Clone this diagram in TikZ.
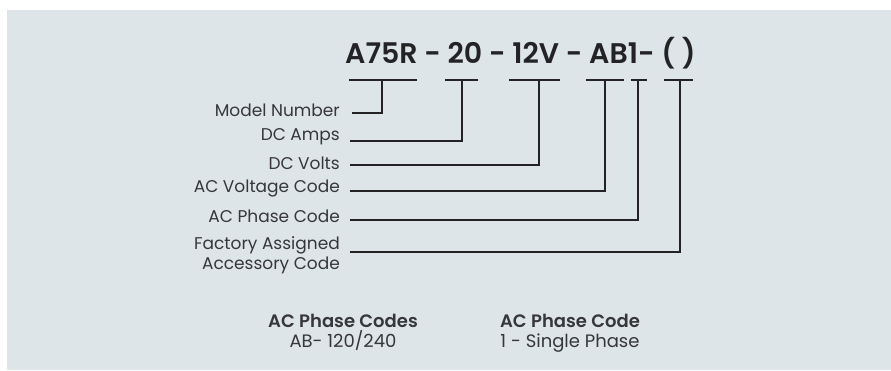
\documentclass[tikz,border=0pt]{standalone}
\usepackage{fontspec}
\setmainfont{Poppins}[BoldFont={Poppins SemiBold}]
\definecolor{panelbg}{RGB}{221,229,232}
\definecolor{inkdark}{RGB}{35,35,38}
\definecolor{textgray}{RGB}{55,55,58}
\usetikzlibrary{positioning}

\begin{document}
\begin{tikzpicture}[x=1pt,y=-1pt,
    field/.style={anchor=east,inner sep=0pt,text=textgray,font=\fontsize{17}{19.5}\selectfont,align=right},
    lead/.style={draw=inkdark,line width=1.3pt},
    keyhead/.style={inner sep=0pt,text=textgray,font=\bfseries\fontsize{18}{20}\selectfont},
    keyline/.style={inner sep=0pt,text=textgray,font=\fontsize{18}{20}\selectfont}]
  \useasboundingbox (0,0) rectangle (891,370);
  \fill[panelbg] (7,10) rectangle (891,370);

  % part number
  \node[inner sep=0pt,text=inkdark,font=\bfseries\fontsize{28.4}{34}\selectfont,anchor=base west]
        (pn) at (345,63) {A75R - 20 - 12V - AB1- ( )};

  % T bars under each field
  \draw[lead] (349,80) -- (417,80);
  \draw[lead] (445,80) -- (478,80);
  \draw[lead] (509,80) -- (560,80);
  \draw[lead] (586,80) -- (624,80);
  \draw[lead] (631,80) -- (647,80);
  \draw[lead] (664,80) -- (693,80);
  \coordinate (t1) at (382,80);
  \coordinate (t2) at (462,80);
  \coordinate (t3) at (539,80);
  \coordinate (t4) at (605,80);
  \coordinate (t5) at (638,80);
  \coordinate (t6) at (680,80);

  % field labels
  \node[field] (model) at (340,110) {Model Number};
  \node[field] (amps)  at (340,137) {DC Amps};
  \node[field] (volts) at (340,163) {DC Volts};
  \node[field] (acv)   at (340,189) {AC Voltage Code};
  \node[field] (acp)   at (340,216) {AC Phase Code};
  \node[field] (fac)   at (340,255) {Factory Assigned\\Accessory Code};

  \draw[lead] ([xshift=12pt,yshift=-3pt]model.east) -| (t1);
  \draw[lead] ([xshift=10pt,yshift=-4pt]amps.east) -| (t2);
  \draw[lead] ([xshift=10pt,yshift=-2pt]volts.east) -| (t3);
  \draw[lead] ([xshift=10pt,yshift=-2pt]acv.east) -| (t4);
  \draw[lead] ([xshift=10pt,yshift=-4pt]acp.east) -| (t5);
  \draw[lead] ([xshift=10pt,yshift=3pt]fac.east) -| (t6);

  % code keys
  \node[keyhead,anchor=base] (phh) at (343,327) {AC Phase Codes};
  \node[keyline,anchor=base] (phv) at (343,347) {AB- 120/240};
  \node[keyhead,anchor=base] (cdh) at (570,327) {AC Phase Code};
  \node[keyline,anchor=base] (cdv) at (570,347) {1 - Single Phase};
\end{tikzpicture}
\end{document}
